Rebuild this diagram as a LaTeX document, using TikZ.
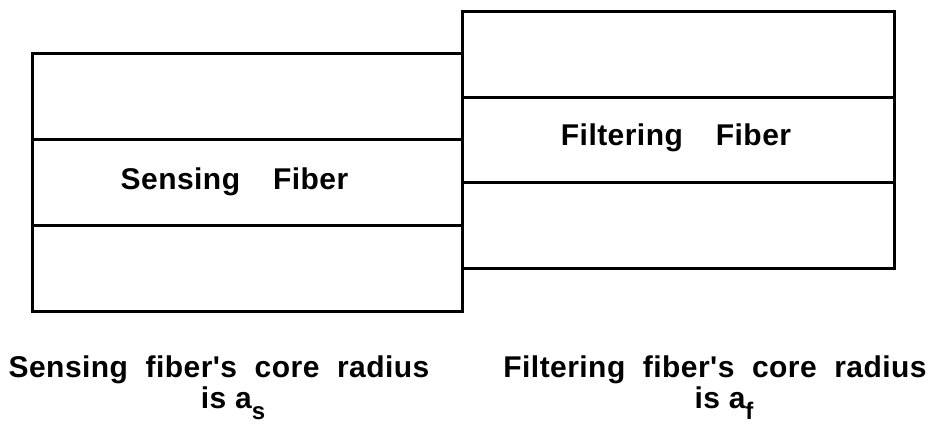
\documentclass[tikz,border=0pt]{standalone}
\usepackage{fontspec}
\newfontfamily\fiberfont{Liberation Sans}[LetterSpace=1.5]
\usetikzlibrary{positioning}
\newcommand{\subidx}[1]{\raisebox{-0.38em}{\fontsize{24}{24}\selectfont #1}}
\tikzset{
  layer/.style={draw, line width=3pt, inner sep=0pt, outer sep=0pt},
  lefts/.style={layer, minimum width=430pt, minimum height=86pt},
  rights/.style={layer, minimum width=432pt, minimum height=85.5pt},
  lbl/.style={inner sep=0pt, anchor=base, font=\fiberfont\bfseries\fontsize{30}{34}\selectfont}
}
\begin{document}
\begin{tikzpicture}[x=1pt,y=-1pt]
   \useasboundingbox (0,0) rectangle (928,424);
   % sensing fiber
   \node[lefts] (s1) at (247,96) {};
   \node[lefts, below=0pt of s1] (s2) {};
   \node[lefts, below=0pt of s2] (s3) {};
   % filtering fiber
   \node[rights] (f1) at (678,54.25) {};
   \node[rights, below=0pt of f1] (f2) {};
   \node[rights, below=0pt of f2] (f3) {};
   \node[lbl] (sname) at (234.5,189) {Sensing\hspace{1.1em}Fiber};
   \node[lbl] (fname) at (676,145) {Filtering\hspace{1.1em}Fiber};
   \node[lbl] (scap1) at (219,377) {Sensing\ \ fiber's\ \ core\ \ radius};
   \node[lbl] (scap2) at (233,408) {is a\subidx{s}};
   \node[lbl] (fcap1) at (715,377) {Filtering\ \ fiber's\ \ core\ \ radius};
   \node[lbl] (fcap2) at (724,408) {is a\subidx{f}};
\end{tikzpicture}
\end{document}
